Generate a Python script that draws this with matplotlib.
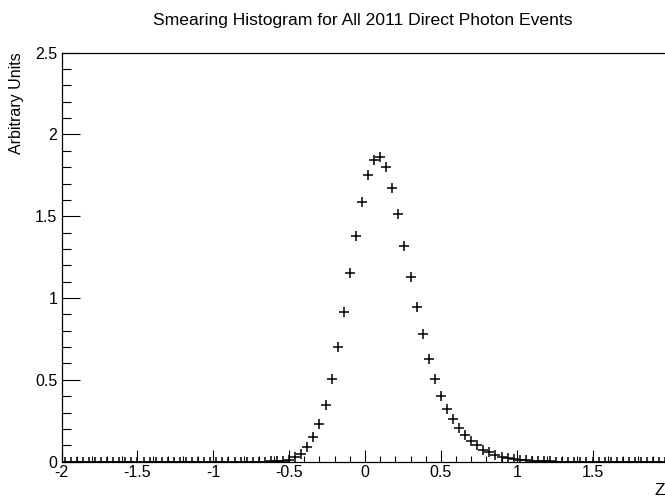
import numpy as np
import matplotlib
matplotlib.use("Agg")
from matplotlib import pyplot as plt
from matplotlib.ticker import FixedLocator, MultipleLocator

plt.rcParams['font.family'] = ['Liberation Sans', 'DejaVu Sans']

# histogram: 100 bins from -2 to 2
x_lo, x_hi, n_bins = -2.0, 2.0, 100
counts = [
    0, 0, 0, 0, 0, 0, 0, 0, 0, 0,
    0, 0, 0, 0, 0, 0, 0, 0, 0, 0,
    0, 0, 0, 0, 0, 0, 0, 0, 0, 0,
    0, 0, 0, 0, 0.001, 0.002, 0.005, 0.012, 0.026, 0.049,
    0.087, 0.148, 0.230, 0.349, 0.504, 0.700, 0.917, 1.151, 1.380, 1.590,
    1.754, 1.846, 1.862, 1.801, 1.675, 1.512, 1.319, 1.130, 0.943, 0.779,
    0.626, 0.504, 0.404, 0.323, 0.260, 0.205, 0.163, 0.129, 0.102, 0.073,
    0.057, 0.043, 0.030, 0.023, 0.016, 0.012, 0.008, 0.005, 0.003, 0.002,
    0.001, 0, 0, 0, 0, 0, 0, 0, 0, 0,
    0, 0, 0, 0, 0, 0, 0, 0, 0, 0,
]

x_ticks = [-2, -1.5, -1, -0.5, 0, 0.5, 1, 1.5, 2]
x_labels = ["-2", "-1.5", "-1", "-0.5", "0", "0.5", "1", "1.5", "2"]
y_ticks = [0, 0.5, 1, 1.5, 2, 2.5]
y_labels = ["0", "0.5", "1", "1.5", "2", "2.5"]

title = "Smearing Histogram for All 2011 Direct Photon Events"
x_title = "Z"
y_title = "Arbitrary Units"

W, H = 665, 497
fig = plt.figure(figsize=(W / 100, H / 100), dpi=100)
# frame in pixels (ROOT pad margins), right edge lies just past the canvas
left_px, right_px, top_px, bottom_px = 61.6, 668.4, 52.7, 461.6
ax = fig.add_axes([left_px / W, 1 - bottom_px / H,
                   (right_px - left_px) / W, (bottom_px - top_px) / H])

edges = np.linspace(x_lo, x_hi, n_bins + 1)
centers = 0.5 * (edges[:-1] + edges[1:])
ax.plot(centers, counts, linestyle='none', marker='+', color='black',
        markersize=6.6, markeredgewidth=1.1)

ax.set_xlim(x_lo, x_hi)
ax.set_ylim(0, 2.5)

ax.xaxis.set_major_locator(FixedLocator(x_ticks))
ax.set_xticklabels(x_labels)
ax.xaxis.set_minor_locator(MultipleLocator(0.1))
ax.yaxis.set_major_locator(FixedLocator(y_ticks))
ax.set_yticklabels(y_labels)
ax.yaxis.set_minor_locator(MultipleLocator(0.1))

ax.tick_params(axis='x', which='major', direction='in', length=8.6, width=0.8,
               top=False, labelsize=11.5, pad=2.5)
ax.tick_params(axis='x', which='minor', direction='in', length=4.3, width=0.8, top=False)
ax.tick_params(axis='y', which='major', direction='in', length=13, width=0.8,
               right=False, labelsize=11.5, pad=3)
ax.tick_params(axis='y', which='minor', direction='in', length=6.5, width=0.8, right=False)

for s in ax.spines.values():
    s.set_linewidth(0.9)

fig.text(363 / W, 1 - 20 / H, title, ha='center', va='center', fontsize=12.6)
fig.text(17 / W, 1 - top_px / H, y_title, rotation=90, ha='center', va='top', fontsize=11.5)
fig.text(665 / W, 1 - 483 / H, x_title, ha='right', va='top', fontsize=12.5)

fig.savefig("out.png", dpi=100)
